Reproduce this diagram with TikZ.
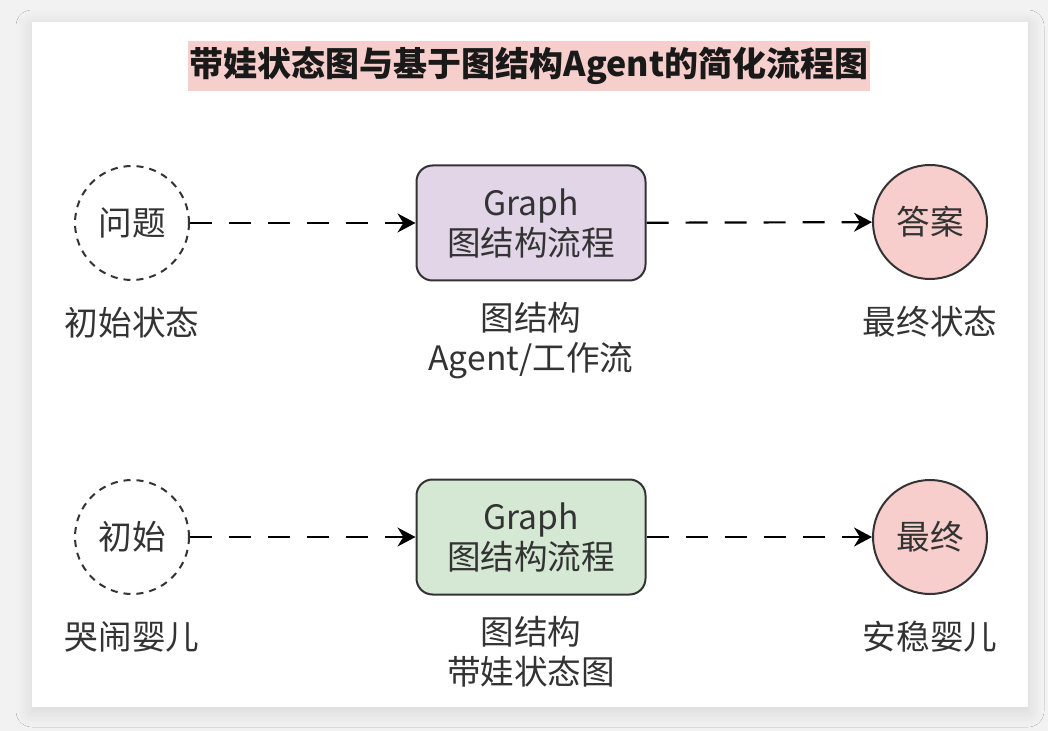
\documentclass[tikz,border=0pt]{standalone}
\usepackage{fontspec}
\setmainfont{Noto Sans CJK SC}
\usetikzlibrary{positioning,arrows.meta,shadows.blur}

\definecolor{statered}{HTML}{F8CECC}
\definecolor{titlered}{HTML}{F6CFCC}
\definecolor{graphpurple}{HTML}{E1D5E7}
\definecolor{graphgreen}{HTML}{D5E8D4}
\definecolor{inkgray}{HTML}{333333}

\begin{document}
\begin{tikzpicture}[x=0.5pt,y=-0.5pt,
    font=\fontsize{16.8}{20}\selectfont,
    state/.style={circle,draw=inkgray,line width=1pt,minimum size=57pt,inner sep=0pt,text=inkgray},
    start/.style={state,dash pattern=on 3.5pt off 3pt},
    final/.style={state,fill=statered},
    graph/.style={rounded corners=8pt,draw=inkgray,line width=1pt,minimum width=114.5pt,minimum height=57.5pt,align=center,text=inkgray},
    caption/.style={align=center,text=inkgray,inner sep=0pt},
    flow/.style={draw=black,line width=1.1pt,dash pattern=on 11pt off 8.5pt,-{Stealth[length=9pt,width=9.5pt]}}]

    % page and card
    \fill[black!5] (0,0) rectangle (1048,731);
    \fill[white,blur shadow={shadow blur steps=12,shadow xshift=0pt,shadow yshift=-2pt,shadow blur radius=8pt,shadow opacity=12}] (32,22) rectangle (1028,707);

    \node[fill=titlered,inner xsep=1pt,inner ysep=3pt,text=black!90,font=\fontsize{17}{20}\selectfont\bfseries] (title) at (529,66) {带娃状态图与基于图结构Agent的简化流程图};

    % upper row
    \node[start] (q1) at (132,223) {问题};
    \node[graph,fill=graphpurple] (g1) at (531,223) {Graph\\图结构流程};
    \node[final] (a1) at (930,222) {答案};

    \node[caption,below=13pt of q1] (q1l) {初始状态};
    \node[caption,below=10pt of g1] (g1l) {图结构\\Agent/工作流};
    \node[caption,below=13pt of a1] (a1l) {最终状态};

    \draw[flow] (q1) -- (g1);
    \draw[flow] (g1) -- (a1);

    % lower row
    \node[start] (q2) at (132,537) {初始};
    \node[graph,fill=graphgreen] (g2) at (531,537) {Graph\\图结构流程};
    \node[final] (a2) at (930,537) {最终};

    \node[caption,below=13pt of q2] (q2l) {哭闹婴儿};
    \node[caption,below=10pt of g2] (g2l) {图结构\\带娃状态图};
    \node[caption,below=13pt of a2] (a2l) {安稳婴儿};

    \draw[flow] (q2) -- (g2);
    \draw[flow] (g2) -- (a2);
\end{tikzpicture}
\end{document}
